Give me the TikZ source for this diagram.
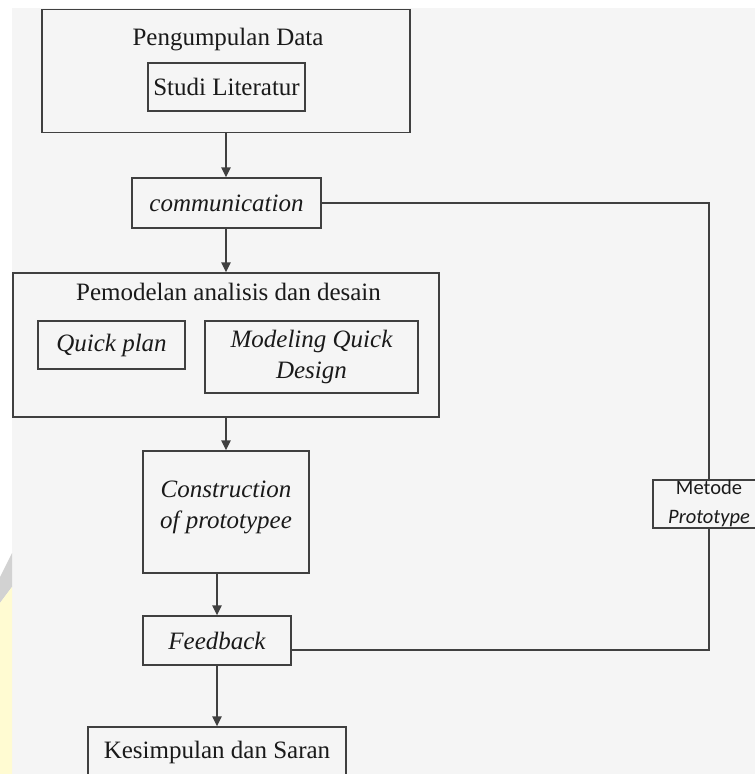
\documentclass[tikz,border=0pt]{standalone}
\usepackage{fontspec}
\setmainfont{Liberation Serif}
\newfontfamily\calib{Carlito}
\usetikzlibrary{arrows.meta,calc}
\definecolor{bg}{HTML}{F5F5F5}
\definecolor{ln}{HTML}{404040}
\definecolor{tx}{HTML}{1A1A1A}
\definecolor{wmgrey}{HTML}{D2D2D2}
\definecolor{wmyel}{HTML}{FFFBD2}
\tikzset{
  boxnode/.style={draw=ln, line width=1.4pt, fill=bg, inner sep=0pt, text=tx, align=center},
  lbl/.style={text=tx, inner sep=0pt, align=center},
  conn/.style={draw=ln, line width=1.4pt},
  arr/.style={conn, -{Triangle[length=10pt,width=9.5pt]}},
}
\begin{document}
\begin{tikzpicture}[x=1pt,y=-1pt,font=\fontsize{25}{31}\selectfont]
\useasboundingbox (0,0) rectangle (755,774);
\clip (0,0) rectangle (755,774);
% background
\fill[white] (0,0) rectangle (755,774);
\fill[bg] (12,8) rectangle (755,774);
% faint watermark in the left margin
\fill[wmgrey] (12,553) -- (12,587) -- (0,603) -- (0,577) -- cycle;
\fill[wmyel] (12,587) -- (12,774) -- (0,774) -- (0,603) -- cycle;

% Pengumpulan Data
\node[boxnode, minimum width=368pt, minimum height=123pt] (pd) at (226,71) {};
\node[lbl] (pdt) at (228,40) {Pengumpulan Data};
\node[boxnode, minimum width=157pt, minimum height=48pt] (sl) at (226.5,87) {Studi Literatur};

% communication
\node[boxnode, minimum width=189pt, minimum height=50pt] (comm) at (226.5,203) {\itshape communication};

% Pemodelan analisis dan desain
\node[boxnode, minimum width=426pt, minimum height=144pt] (pem) at (226,345) {};
\node[lbl] (pemt) at (228.5,292) {Pemodelan analisis dan desain};
\node[boxnode, minimum width=147pt, minimum height=48pt] (qp) at (111.5,345) {\itshape Quick plan};
\node[boxnode, minimum width=213pt, minimum height=72pt] (mqd) at (311.5,357) {\itshape Modeling Quick\\\itshape Design};

% Construction of prototypee
\node[boxnode, minimum width=166pt, minimum height=122pt] (cons) at (226,512) {};
\node[lbl] (const) at (226,507.5) {\itshape Construction\\\itshape of prototypee};

% Feedback
\node[boxnode, minimum width=148pt, minimum height=49pt] (feed) at (217,640.5) {\itshape Feedback};

% Kesimpulan dan Saran
\node[boxnode, minimum width=258pt, minimum height=50pt] (kes) at (217,752) {Kesimpulan dan Saran};

% Metode Prototype
\node[boxnode, minimum width=112pt, minimum height=48pt, font=\calib\fontsize{20.5}{29}\selectfont] (met) at (709,504) {Metode\\\itshape Prototype};

% vertical flow
\draw[arr] (pd.south) -- (pd.south |- comm.north);
\draw[arr] (comm.south -| pd.south) -- (pem.north);
\draw[arr] (pem.south) -- (cons.north);
\draw[arr] (feed.north |- cons.south) -- (feed.north);
\draw[arr] (feed.south) -- (kes.north);

% feedback loop
\draw[conn] (comm.east) -| (met.north);
\draw[conn] (met.south) |- ([yshift=-9.5pt]feed.east);
\end{tikzpicture}
\end{document}
